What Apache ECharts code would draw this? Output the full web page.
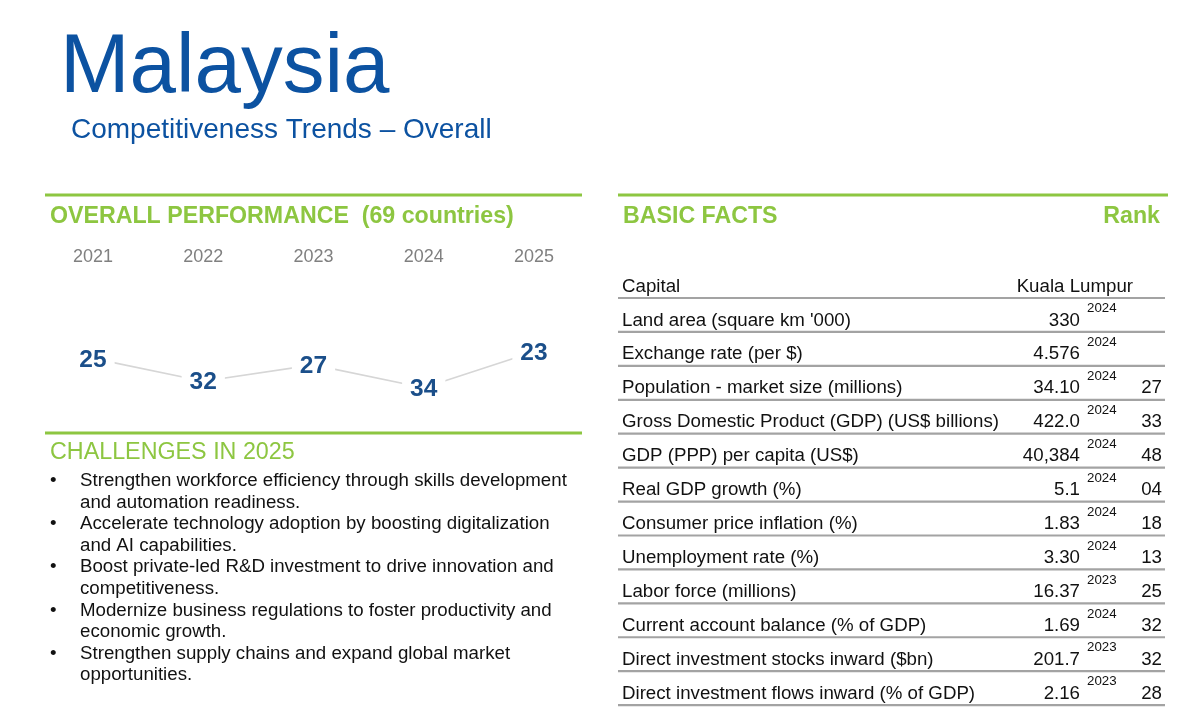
<!DOCTYPE html>
<html>
<head>
<meta charset="utf-8">
<script src="https://cdn.jsdelivr.net/npm/echarts@6/dist/echarts.min.js"></script>
<style>
html,body{margin:0;padding:0;background:#fff;}
#c{width:1185px;height:716px;}
</style>
</head>
<body>
<div id="c"></div>
<script>
// ---- data ----
var years = ['2021', '2022', '2023', '2024', '2025'];
var overallRank = [25, 32, 27, 34, 23];

var factNames = ['Capital', "Land area (square km '000)", 'Exchange rate (per $)',
  'Population - market size (millions)', 'Gross Domestic Product (GDP) (US$ billions)',
  'GDP (PPP) per capita (US$)', 'Real GDP growth (%)', 'Consumer price inflation (%)',
  'Unemployment rate (%)', 'Labor force (millions)', 'Current account balance (% of GDP)',
  'Direct investment stocks inward ($bn)', 'Direct investment flows inward (% of GDP)'];
var factValues = ['Kuala Lumpur', '330', '4.576', '34.10', '422.0', '40,384', '5.1', '1.83',
  '3.30', '16.37', '1.69', '201.7', '2.16'];
var factYears = ['', '2024', '2024', '2024', '2024', '2024', '2024', '2024', '2024', '2023',
  '2024', '2023', '2023'];
var factRanks = ['', '', '', '27', '33', '48', '04', '18', '13', '25', '32', '32', '28'];

var challenges = [
  'Strengthen workforce efficiency through skills development\nand automation readiness.',
  'Accelerate technology adoption by boosting digitalization\nand AI capabilities.',
  'Boost private-led R&D investment to drive innovation and\ncompetitiveness.',
  'Modernize business regulations to foster productivity and\neconomic growth.',
  'Strengthen supply chains and expand global market\nopportunities.'
];

// ---- styles ----
var FONT = '"Liberation Sans", Arial, Helvetica, sans-serif';
var GREEN = '#8dc641';
var BLUE = '#0c52a1';
var DARKBLUE = '#1b4f8a';
var TXT = '18.7px ' + FONT;

var chart = echarts.init(document.getElementById('c'), null, {renderer: 'canvas'});

var graphics = [
  {type: 'text', x: 60, y: 69, style: {text: 'Malaysia', font: '83.5px ' + FONT, fill: BLUE, verticalAlign: 'middle'}},
  {type: 'text', x: 71, y: 130, style: {text: 'Competitiveness Trends \u2013 Overall', font: '28px ' + FONT, fill: BLUE, verticalAlign: 'middle'}},
  {type: 'rect', shape: {x: 45, y: 193.5, width: 537, height: 3}, style: {fill: GREEN}},
  {type: 'rect', shape: {x: 618, y: 193.5, width: 550, height: 3}, style: {fill: GREEN}},
  {type: 'rect', shape: {x: 45, y: 431.5, width: 537, height: 3}, style: {fill: GREEN}},
  {type: 'text', x: 50, y: 216.5, style: {text: 'OVERALL PERFORMANCE  (69 countries)', font: 'bold 23.2px ' + FONT, fill: GREEN, verticalAlign: 'middle'}},
  {type: 'text', x: 623, y: 216.5, style: {text: 'BASIC FACTS', font: 'bold 23.2px ' + FONT, fill: GREEN, verticalAlign: 'middle'}},
  {type: 'text', x: 1160, y: 216.5, style: {text: 'Rank', font: 'bold 23.2px ' + FONT, fill: GREEN, align: 'right', verticalAlign: 'middle'}},
  {type: 'text', x: 50, y: 453, style: {text: 'CHALLENGES IN 2025', font: '23.3px ' + FONT, fill: GREEN, verticalAlign: 'middle'}}
];
var LH = 21.6;
var lineCount = 0;
challenges.forEach(function (t) {
  var yTop = 470 + lineCount * LH;
  graphics.push({type: 'text', x: 50, y: yTop, style: {text: '\u2022', font: TXT, fill: '#111', verticalAlign: 'top', lineHeight: LH}});
  graphics.push({type: 'text', x: 80, y: yTop, style: {text: t, font: TXT, fill: '#111', verticalAlign: 'top', lineHeight: LH}});
  lineCount += t.split('\n').length;
});

var option = {
  backgroundColor: '#fff',
  animation: false,
  grid: [
    {left: 93, right: 651, top: 280, bottom: 214},
    {left: 618, right: 20, top: 264, bottom: 11}
  ],
  xAxis: [
    {
      gridIndex: 0, type: 'category', data: years, position: 'top', boundaryGap: false,
      axisLine: {show: false}, axisTick: {show: false}, splitLine: {show: false},
      axisLabel: {color: '#808080', fontSize: 18, fontFamily: FONT, margin: 14}
    },
    {gridIndex: 1, type: 'value', min: 0, max: 1, show: false}
  ],
  yAxis: [
    {gridIndex: 0, type: 'value', min: 1, max: 69, inverse: true, show: false},
    {gridIndex: 1, type: 'category', data: factNames, inverse: true, show: false}
  ],
  series: [
    {
      type: 'line', xAxisIndex: 0, yAxisIndex: 0, data: overallRank,
      symbol: 'circle', symbolSize: 1, showSymbol: true,
      itemStyle: {color: 'rgba(255,255,255,0)'},
      lineStyle: {color: '#d6d6d6', width: 1.6},
      label: {
        show: true, position: 'inside', formatter: '{c}', color: DARKBLUE,
        fontSize: 24.5, fontWeight: 'bold', fontFamily: FONT,
        backgroundColor: '#fff', padding: [3, 8], offset: [0, 1.5]
      },
      z: 3
    },
    {
      type: 'custom', xAxisIndex: 1, yAxisIndex: 1, clip: false,
      data: factNames.map(function (n, i) { return [0, i]; }),
      encode: {x: 0, y: 1},
      renderItem: function (params, api) {
        var i = params.dataIndex;
        var cs = params.coordSys;
        var c = api.coord([0, i]);
        var bh = api.size([0, 1])[1];
        var ty = c[1] + 5.5;
        var left = cs.x, right = cs.x + cs.width;
        var children = [
          {type: 'rect', shape: {x: left, y: c[1] + bh / 2 - 1, width: right - left, height: 2.2}, style: {fill: '#a3a3a3'}},
          {type: 'text', x: left + 4, y: ty, style: {text: factNames[i], font: TXT, fill: '#111', verticalAlign: 'middle'}}
        ];
        if (factYears[i]) {
          children.push({type: 'text', x: right - 85, y: ty, style: {text: factValues[i], font: TXT, fill: '#111', align: 'right', verticalAlign: 'middle'}});
          children.push({type: 'text', x: right - 78, y: ty - 11.8, style: {text: factYears[i], font: '13.3px ' + FONT, fill: '#111', verticalAlign: 'middle'}});
        } else {
          children.push({type: 'text', x: right - 32, y: ty, style: {text: factValues[i], font: TXT, fill: '#111', align: 'right', verticalAlign: 'middle'}});
        }
        if (factRanks[i]) {
          children.push({type: 'text', x: right - 3, y: ty, style: {text: factRanks[i], font: TXT, fill: '#111', align: 'right', verticalAlign: 'middle'}});
        }
        return {type: 'group', children: children};
      }
    }
  ],
  graphic: graphics
};
chart.setOption(option);
</script>
</body>
</html>
